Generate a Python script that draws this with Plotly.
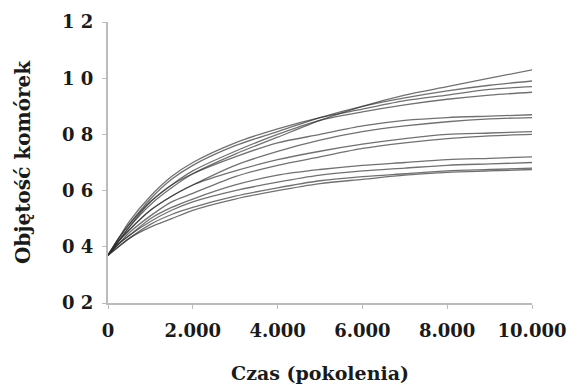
import plotly.graph_objects as go

generations = [0, 250, 500, 1000, 1500, 2000, 3000, 4000, 5000, 6000, 7000, 8000, 9000, 10000]

pop_A1 = [0.37, 0.42, 0.47, 0.55, 0.61, 0.66, 0.73, 0.79, 0.85, 0.90, 0.94, 0.97, 1.00, 1.03]
pop_A2 = [0.37, 0.43, 0.48, 0.57, 0.64, 0.69, 0.76, 0.81, 0.86, 0.90, 0.93, 0.955, 0.975, 0.99]
pop_A3 = [0.37, 0.43, 0.49, 0.58, 0.65, 0.70, 0.77, 0.82, 0.86, 0.89, 0.92, 0.94, 0.96, 0.97]
pop_A4 = [0.37, 0.42, 0.47, 0.56, 0.62, 0.67, 0.74, 0.80, 0.85, 0.88, 0.905, 0.925, 0.94, 0.95]
pop_A5 = [0.37, 0.43, 0.48, 0.56, 0.62, 0.66, 0.72, 0.77, 0.80, 0.83, 0.85, 0.86, 0.865, 0.87]
pop_A6 = [0.37, 0.42, 0.46, 0.53, 0.58, 0.62, 0.69, 0.74, 0.78, 0.81, 0.83, 0.845, 0.855, 0.86]
pop_A7 = [0.37, 0.42, 0.46, 0.53, 0.58, 0.62, 0.67, 0.71, 0.74, 0.765, 0.785, 0.80, 0.805, 0.81]
pop_A8 = [0.37, 0.41, 0.45, 0.51, 0.56, 0.59, 0.65, 0.69, 0.72, 0.75, 0.77, 0.785, 0.795, 0.80]
pop_A9 = [0.37, 0.41, 0.44, 0.50, 0.54, 0.57, 0.62, 0.655, 0.675, 0.69, 0.70, 0.71, 0.715, 0.72]
pop_A10 = [0.37, 0.41, 0.44, 0.49, 0.53, 0.56, 0.60, 0.63, 0.655, 0.67, 0.68, 0.69, 0.695, 0.70]
pop_A11 = [0.37, 0.40, 0.43, 0.48, 0.515, 0.54, 0.58, 0.61, 0.635, 0.65, 0.66, 0.67, 0.675, 0.68]
pop_A12 = [0.37, 0.40, 0.43, 0.47, 0.50, 0.53, 0.57, 0.60, 0.625, 0.64, 0.655, 0.665, 0.67, 0.675]

populations = [pop_A1, pop_A2, pop_A3, pop_A4, pop_A5, pop_A6,
               pop_A7, pop_A8, pop_A9, pop_A10, pop_A11, pop_A12]

x_tick_vals = [0, 2000, 4000, 6000, 8000, 10000]
x_tick_text = ["0", "2.000", "4.000", "6.000", "8.000", "10.000"]
y_tick_vals = [0.2, 0.4, 0.6, 0.8, 1.0, 1.2]
y_tick_text = ["0 2", "0 4", "0 6", "0 8", "1 0", "1 2"]

FONT = "DejaVu Serif"

fig = go.Figure()
for vals in populations:
    fig.add_trace(go.Scatter(
        x=generations, y=vals, mode="lines",
        line=dict(color="rgba(45,45,45,0.68)", width=1.3, shape="spline", smoothing=0.8),
        showlegend=False, hoverinfo="skip",
    ))

fig.update_layout(
    width=577, height=385,
    margin=dict(l=108, r=45, t=22, b=82),
    paper_bgcolor="white", plot_bgcolor="white",
    font=dict(family=FONT, color="#1a1a1a"),
    xaxis=dict(
        range=[0, 10000], tickvals=x_tick_vals, ticktext=x_tick_text,
        automargin=False,
        showgrid=False, zeroline=False,
        showline=True, linecolor="#bbbbbb", linewidth=2,
        ticks="outside", ticklen=4, tickcolor="#bbbbbb", tickwidth=1,
        tickfont=dict(family=FONT, size=18, weight="bold", color="#1a1a1a"),
        ticklabelstandoff=6,
        title=dict(text="Czas (pokolenia)", standoff=27,
                   font=dict(family=FONT, size=19, weight="bold", color="#1a1a1a")),
    ),
    yaxis=dict(
        range=[0.2, 1.2], tickvals=y_tick_vals, ticktext=y_tick_text,
        automargin=False,
        showgrid=False, zeroline=False,
        showline=True, linecolor="#bbbbbb", linewidth=2,
        ticks="outside", ticklen=4, tickcolor="#bbbbbb", tickwidth=1,
        tickfont=dict(family=FONT, size=18, weight="bold", color="#1a1a1a"),
        ticklabelstandoff=5,
        title=dict(text="Objętość komórek", standoff=26,
                   font=dict(family=FONT, size=20, weight="bold", color="#1a1a1a")),
    ),
)

fig.write_html("out.html")
